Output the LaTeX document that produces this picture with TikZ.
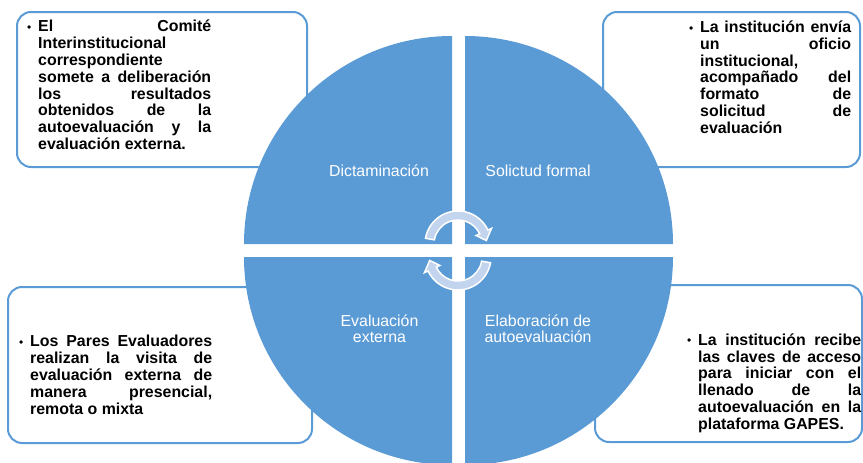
\documentclass[tikz,border=0pt]{standalone}
\usepackage{fontspec}
\setmainfont{Liberation Sans}
\usetikzlibrary{positioning}
\definecolor{quadblue}{HTML}{5B9BD5}
\definecolor{arrowblue}{HTML}{C2D4EE}

\begin{document}
\begin{tikzpicture}
  [x=1pt, y=-1pt,
   infobox/.style={rectangle, rounded corners=14pt, draw=quadblue,
                   line width=2pt, fill=white, inner sep=0pt},
   bullettext/.style={anchor=north west, inner sep=0pt, text=black, align=justify,
                      font=\bfseries\fontsize{15.9}{16.8}\selectfont,
                      execute at begin node={\tolerance=10000\hyphenpenalty=10000
                        \leftskip=0pt\rightskip=0pt\parfillskip=0pt plus 1fil
                        \hangindent=11pt\hangafter=1\noindent\rule{0pt}{15pt}%
                        \makebox[11pt][l]{\raisebox{0.5pt}{\mdseries\fontsize{12}{12}\selectfont •}}}},
   phase/.style={text=white, inner sep=0pt, align=center,
                 font=\fontsize{15.9}{16.4}\selectfont},
   quadrant/.style={fill=quadblue},
   cyclearrow/.style={fill=arrowblue, draw=white, line width=1.5pt}]
  \useasboundingbox (0,0) rectangle (863,463);

  % recuadros
  \node[infobox, minimum width=290pt, minimum height=155pt] (dictbox)  at (162,89.5)  {};
  \node[infobox, minimum width=257pt, minimum height=155pt] (solbox)   at (731.5,89.5) {};
  \node[infobox, minimum width=304pt, minimum height=156pt] (evalbox)  at (160,365)   {};
  \node[infobox, minimum width=267pt, minimum height=157pt] (autobox)  at (728.5,363.5) {};

  % cuadrantes
  \fill[quadrant] (452,244) -- ++(-208,0) arc[start angle=180, end angle=270, radius=208] -- cycle;
  \fill[quadrant] (465,244) -- ++(208,0) arc[start angle=0, end angle=-90, radius=208] -- cycle;
  \fill[quadrant] (452,257) -- ++(-208,0) arc[start angle=180, end angle=90, radius=208] -- cycle;
  \fill[quadrant] (465,257) -- ++(208,0) arc[start angle=0, end angle=90, radius=208] -- cycle;

  % flechas del ciclo
  \filldraw[cyclearrow] (458,244) ++(190:33) arc[start angle=190, end angle=335, radius=33]
    -- ([shift={(335:37)}]458,244) -- ([shift={(353:28.5)}]458,244)
    -- ([shift={(335:20)}]458,244) -- ([shift={(335:24)}]458,244)
    arc[start angle=335, end angle=190, radius=24] -- cycle;
  \filldraw[cyclearrow] (458,257) ++(10:33) arc[start angle=10, end angle=155, radius=33]
    -- ([shift={(155:37)}]458,257) -- ([shift={(173:28.5)}]458,257)
    -- ([shift={(155:20)}]458,257) -- ([shift={(155:24)}]458,257)
    arc[start angle=155, end angle=10, radius=24] -- cycle;

  % etapas
  \node[phase, anchor=base] (dictamen)  at (379,176) {Dictaminación};
  \node[phase, anchor=base] (solicitud) at (538,176) {Solictud formal};
  \node[phase] (externa)  at (379.5,328.5) {Evaluación\\externa};
  \node[phase] (autoeval) at (538,328.5)   {Elaboración de\\autoevaluación};

  % textos
  \node[bullettext, text width=184pt] (dicttext) at (27,16.7)
    {El Comité\linebreak Interinstitucional\linebreak correspondiente\linebreak
     somete a deliberación\linebreak los resultados\linebreak obtenidos de la\linebreak
     autoevaluación y la\linebreak evaluación externa.};
  \node[bullettext, text width=162pt] (soltext) at (689,17.3)
    {La institución envía\linebreak un oficio\linebreak institucional,\linebreak
     acompañado del\linebreak formato de\linebreak solicitud de\linebreak evaluación};
  \node[bullettext, text width=193pt] (evaltext) at (19,331.7)
    {Los Pares Evaluadores\linebreak realizan la visita de\linebreak
     evaluación externa de\linebreak manera presencial,\linebreak remota o mixta};
  \node[bullettext, text width=174pt] (autotext) at (687,330)
    {La institución recibe\linebreak las claves de acceso\linebreak
     para iniciar con el\linebreak llenado de la\linebreak
     autoevaluación en la\linebreak plataforma GAPES.};
\end{tikzpicture}
\end{document}
